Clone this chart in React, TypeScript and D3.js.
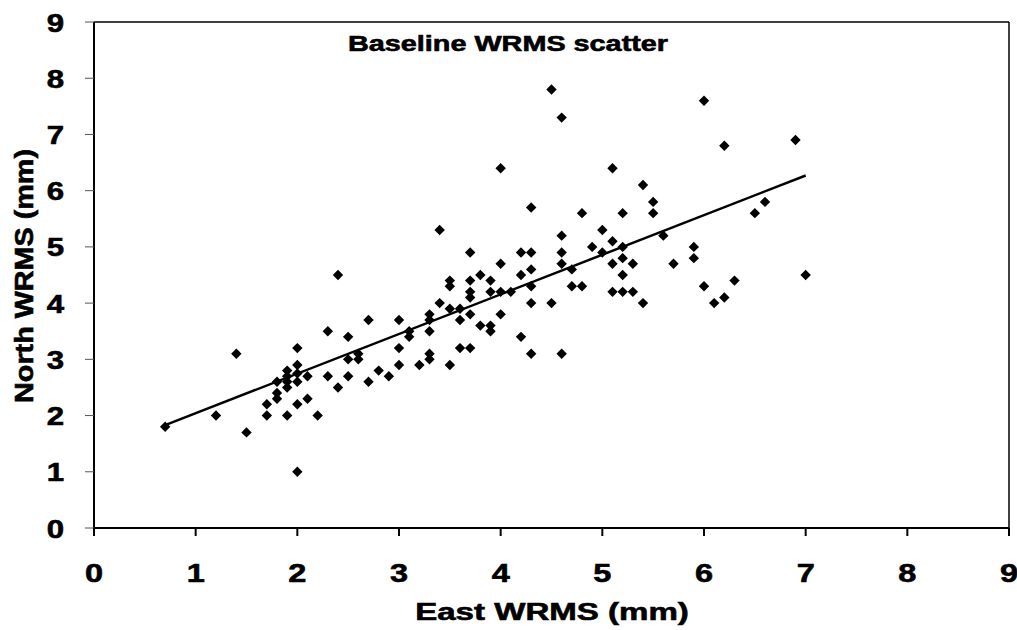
import React from 'react';
import * as d3 from 'd3';

const eastWRMS = [
  0.7, 1.2, 1.4, 1.5, 1.7, 1.7, 1.8, 1.8, 1.8, 1.9, 1.9, 1.9, 1.9, 1.9, 2.0, 2.0, 2.0, 2.0, 2.0, 2.0,
  2.1, 2.1, 2.2, 2.3, 2.3, 2.4, 2.4,
  2.5, 2.5, 2.5, 2.6, 2.6, 2.7, 2.7, 2.8, 2.9, 3.0, 3.0, 3.0,
  3.1, 3.1, 3.2, 3.3, 3.3, 3.3, 3.3, 3.3, 3.4, 3.4, 3.5, 3.5, 3.5, 3.5, 3.6, 3.6, 3.6,
  3.7, 3.7, 3.7, 3.7, 3.7, 3.7, 3.8, 3.8, 3.9, 3.9, 3.9, 3.9, 4.0, 4.0, 4.0, 4.0,
  4.1, 4.2, 4.2, 4.2, 4.3, 4.3, 4.3, 4.3, 4.3, 4.3, 4.5, 4.5,
  4.6, 4.6, 4.6, 4.6, 4.6, 4.7, 4.7, 4.8, 4.8, 4.9, 5.0, 5.0,
  5.1, 5.1, 5.1, 5.1, 5.2, 5.2, 5.2, 5.2, 5.2, 5.3, 5.3, 5.4, 5.4, 5.5, 5.5, 5.6, 5.7,
  5.9, 5.9, 6.0, 6.0, 6.1, 6.2, 6.2, 6.3, 6.5, 6.6, 6.9, 7.0,
];
const northWRMS = [
  1.8, 2.0, 3.1, 1.7, 2.0, 2.2, 2.4, 2.3, 2.6, 2.8, 2.7, 2.6, 2.5, 2.0, 2.75, 2.6, 2.9, 3.2, 2.2, 1.0,
  2.7, 2.3, 2.0, 3.5, 2.7, 2.5, 4.5,
  3.4, 3.0, 2.7, 3.1, 3.0, 3.7, 2.6, 2.8, 2.7, 3.7, 3.2, 2.9,
  3.5, 3.4, 2.9, 3.8, 3.7, 3.5, 3.1, 3.0, 5.3, 4.0, 4.4, 4.3, 3.9, 2.9, 3.9, 3.7, 3.2,
  4.9, 4.4, 4.2, 4.1, 3.8, 3.2, 4.5, 3.6, 4.4, 4.2, 3.6, 3.5, 6.4, 4.7, 4.2, 3.8,
  4.2, 4.9, 4.5, 3.4, 5.7, 4.9, 4.6, 4.3, 4.0, 3.1, 7.8, 4.0,
  7.3, 5.2, 4.9, 4.7, 3.1, 4.6, 4.3, 5.6, 4.3, 5.0, 5.3, 4.9,
  6.4, 5.1, 4.7, 4.2, 5.6, 5.0, 4.8, 4.5, 4.2, 4.7, 4.2, 6.1, 4.0, 5.8, 5.6, 5.2, 4.7,
  5.0, 4.8, 7.6, 4.3, 4.0, 6.8, 4.1, 4.4, 5.6, 5.8, 6.9, 4.5,
];
const xTickValues = [0, 1, 2, 3, 4, 5, 6, 7, 8, 9];
const yTickValues = [0, 1, 2, 3, 4, 5, 6, 7, 8, 9];
const trendEast = [0.7, 7.0];
const trendNorth = [1.83, 6.27];
const chartTitle = 'Baseline WRMS scatter';
const xAxisTitle = 'East WRMS (mm)';
const yAxisTitle = 'North WRMS (mm)';

const FONT = '"Liberation Sans", Arial, Helvetica, sans-serif';

export default function App() {
  const W = 1017;
  const H = 630;
  const left = 94, right = 1009, top = 22, bottom = 528;
  const x = d3.scaleLinear().domain([0, 9]).range([left, right]);
  const y = d3.scaleLinear().domain([0, 9]).range([bottom, top]);
  const trendLine = d3
    .line<number>()
    .x((d) => x(d))
    .y((_, i) => y(trendNorth[i]))(trendEast) as string;
  const r = 5.2;
  const diamond = (cx: number, cy: number) =>
    `M${cx},${cy - r}L${cx + r},${cy}L${cx},${cy + r}L${cx - r},${cy}Z`;
  const textStroke = { stroke: '#000', strokeWidth: 0.6 };

  return (
    <svg
      width={W}
      height={H}
      style={{ position: 'absolute', left: 0, top: 0, background: '#fff' }}
      fontFamily={FONT}
      fontWeight="bold"
    >
      <rect x={0} y={0} width={W} height={H} fill="#fff" />
      <line x1={left} x2={right} y1={top} y2={top} stroke="#000" strokeWidth={1.5} />
      <line x1={right} x2={right} y1={top} y2={bottom} stroke="#000" strokeWidth={1.5} />
      <line x1={left} x2={left} y1={top} y2={bottom} stroke="#000" strokeWidth={2} />
      <line x1={left} x2={right} y1={bottom} y2={bottom} stroke="#000" strokeWidth={2} />
      {yTickValues.map((v) => (
        <g key={'yt' + v}>
          <line x1={left - 9} x2={left} y1={y(v)} y2={y(v)} stroke="#555" strokeWidth={1} />
          <text
            transform={`translate(64,${y(v) + 9.5}) scale(1.2,1)`}
            textAnchor="end"
            fontSize={26}
            fill="#000"
            {...textStroke}
          >
            {v}
          </text>
        </g>
      ))}
      {xTickValues.map((v) => (
        <g key={'xt' + v}>
          <line x1={x(v)} x2={x(v)} y1={bottom} y2={bottom + 8} stroke="#000" strokeWidth={2} />
          <text
            transform={`translate(${x(v)},582) scale(1.25,1)`}
            textAnchor="middle"
            fontSize={26}
            fill="#000"
            {...textStroke}
          >
            {v}
          </text>
        </g>
      ))}
      <path d={trendLine} fill="none" stroke="#000" strokeWidth={2.5} />
      {eastWRMS.map((e, i) => (
        <path key={'p' + i} d={diamond(x(e), y(northWRMS[i]))} fill="#000" />
      ))}
      <text
        transform="translate(508,51) scale(1.34,1)"
        textAnchor="middle"
        fontSize={21.5}
        fill="#000"
        {...textStroke}
      >
        {chartTitle}
      </text>
      <text
        transform="translate(552,620) scale(1.35,1)"
        textAnchor="middle"
        fontSize={24.5}
        fill="#000"
        {...textStroke}
      >
        {xAxisTitle}
      </text>
      <text
        transform="translate(33,276) rotate(-90) scale(1.15,1)"
        textAnchor="middle"
        fontSize={25}
        fill="#000"
        {...textStroke}
      >
        {yAxisTitle}
      </text>
    </svg>
  );
}
